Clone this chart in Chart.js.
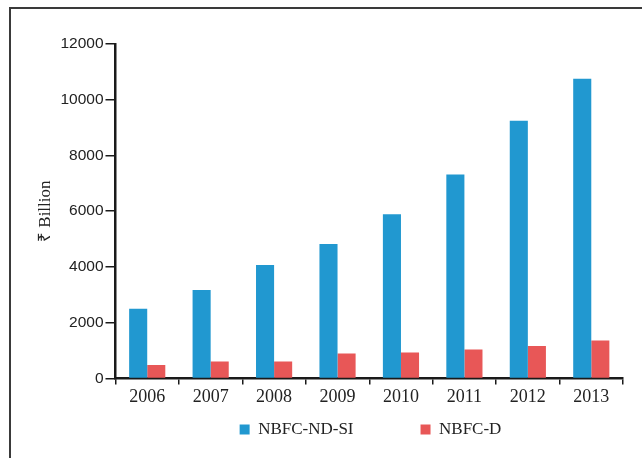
<!DOCTYPE html>
<html>
<head>
<meta charset="utf-8">
<script src="https://cdn.jsdelivr.net/npm/chart.js@4/dist/chart.umd.min.js"></script>
<style>
  html, body { margin: 0; padding: 0; background: #fff; }
  #frame { position: absolute; left: 9px; top: 7px; width: 640px; height: 460px;
           border-left: 2px solid #3a3a3a; border-top: 2px solid #3a3a3a; }
  #wrap { position: absolute; left: 0; top: 0; width: 642px; height: 458px; }
</style>
</head>
<body>
<div id="frame"></div>
<div id="wrap"><canvas id="chart" width="642" height="458"></canvas></div>
<script>
const years = ["2006", "2007", "2008", "2009", "2010", "2011", "2012", "2013"];
const ndsi = [2500, 3170, 4070, 4820, 5890, 7320, 9250, 10750];
const nbfcD = [480, 610, 610, 890, 930, 1040, 1160, 1360];
const yTicks = [0, 2000, 4000, 6000, 8000, 10000, 12000];

const textColor = "#222";
const axisColor = "#1a1a1a";

// legend items sit far apart, but close under the axis labels
const legendGap = 67;
const legendLift = 56;
const legendNudge = 92;
const legendTighten = {
    id: "legendTighten",
    beforeLayout(chart) {
        const lg = chart.legend;
        if (lg && !lg._tight) {
            const fit = lg.fit;
            lg.fit = function () { fit.call(this); this.height -= legendLift; };
            lg._tight = true;
        }
    },
    afterLayout(chart) {
        // the legend clips to its own box, so grow it upwards
        chart.legend.top -= legendLift;
        chart.legend.height += legendLift;
        chart.legend.left += legendNudge;
        chart.legend.width -= legendNudge;
    }
};

new Chart(document.getElementById("chart"), {
    type: "bar",
    data: {
        labels: years,
        datasets: [
            { label: "NBFC-ND-SI", data: ndsi, backgroundColor: "#2198d0", borderWidth: 0 },
            { label: "NBFC-D", data: nbfcD, backgroundColor: "#e85757", borderWidth: 0 }
        ]
    },
    plugins: [legendTighten],
    options: {
        responsive: false,
        animation: false,
        layout: { padding: { left: 26, right: 19, top: 44, bottom: 10 } },
        datasets: { bar: { barPercentage: 1, categoryPercentage: 0.57 } },
        plugins: {
            tooltip: { enabled: false },
            legend: {
                position: "bottom",
                labels: {
                    color: textColor,
                    font: { family: "Liberation Serif", size: 17 },
                    boxWidth: 10, boxHeight: 10,
                    padding: legendGap
                }
            }
        },
        scales: {
            x: {
                grid: { drawOnChartArea: false, drawTicks: true, tickLength: 6, color: axisColor, lineWidth: 1.5 },
                border: { display: true, color: axisColor, width: 2.5 },
                ticks: { color: textColor, font: { family: "Liberation Serif", size: 18 }, padding: 2 }
            },
            y: {
                min: 0, max: 12000,
                afterBuildTicks: axis => { axis.ticks = yTicks.map(v => ({ value: v })); },
                grid: { drawOnChartArea: false, drawTicks: true, tickLength: 10, color: axisColor, lineWidth: 1.5 },
                border: { display: true, color: axisColor, width: 2.5 },
                ticks: { color: textColor, font: { family: "Liberation Sans", size: 15.5 }, padding: 2,
                         callback: v => String(v) },
                title: { display: true, text: "₹ Billion", color: textColor,
                         font: { family: "Liberation Serif", size: 17 }, padding: { top: 9, bottom: 3 } }
            }
        }
    }
});
</script>
</body>
</html>
